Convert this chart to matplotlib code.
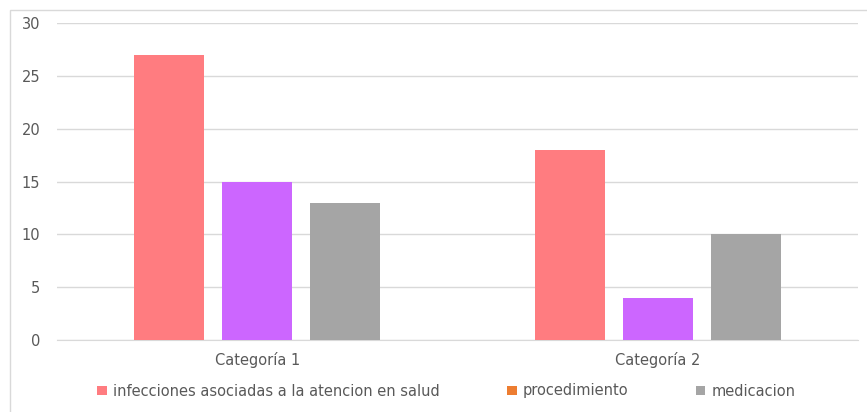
import matplotlib
matplotlib.use("Agg")
import matplotlib.pyplot as plt
from matplotlib.patches import Patch, Rectangle
import numpy as np

categories = ["Categoría 1", "Categoría 2"]
series_names = ["infecciones asociadas a la atencion en salud", "procedimiento", "medicacion"]
infecciones = [27, 18]
procedimiento = [15, 4]
medicacion = [13, 10]
y_ticks = [0, 5, 10, 15, 20, 25, 30]

bar_colors = ["#FF7C80", "#CC66FF", "#A5A5A5"]
legend_colors = ["#FF7C80", "#ED7D31", "#A5A5A5"]
text_color = "#595959"
fs = 10.5

W, H = 867, 412
fig = plt.figure(figsize=(W / 100, H / 100), dpi=100)
fig.patch.set_facecolor("white")
fig.add_artist(Rectangle((10 / W, -0.01), 1.1, (H - 10) / H + 0.01, transform=fig.transFigure,
                         fill=False, edgecolor="#D9D9D9", linewidth=1.0))

ax = fig.add_axes([57 / W, (H - 340) / H, (858 - 57) / W, (340 - 23) / H])
x = np.arange(len(categories))
width = 0.175
offset = 0.22
for i, (vals, c) in enumerate(zip([infecciones, procedimiento, medicacion], bar_colors)):
    ax.bar(x + (i - 1) * offset, vals, width, color=c, zorder=3)

ax.set_xlim(-0.5, 1.5)
ax.set_ylim(0, 30)
ax.set_yticks(y_ticks)
ax.set_xticks(x)
ax.set_xticklabels(categories)
ax.grid(axis="y", color="#D9D9D9", linewidth=1.0, zorder=0)
for s in ["top", "right", "left"]:
    ax.spines[s].set_visible(False)
ax.spines["bottom"].set_color("#D9D9D9")
ax.tick_params(axis="both", length=0, labelsize=fs, colors=text_color)
ax.tick_params(axis="y", pad=12)
ax.tick_params(axis="x", pad=9)

handles = [Patch(facecolor=c, edgecolor="none") for c in legend_colors]
leg = fig.legend(handles, series_names, loc="center", bbox_to_anchor=(0.515, (H - 391) / H),
                 ncol=3, frameon=False, fontsize=fs, handlelength=0.65, handleheight=0.65,
                 handletextpad=0.45, columnspacing=4.6)
for t in leg.get_texts():
    t.set_color(text_color)

fig.savefig("out.png", dpi=100)
